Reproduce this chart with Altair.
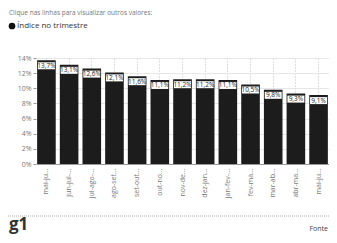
import altair as alt
import pandas as pd

categories = ["mai-jun-jul 2021", "jun-jul-ago 2021", "jul-ago-set 2021", "ago-set-out 2021",
              "set-out-nov 2021", "out-nov-dez 2021", "nov-dez-jan 2022", "dez-jan-fev 2022",
              "jan-fev-mar 2022", "fev-mar-abr 2022", "mar-abr-mai 2022", "abr-mai-jun 2022",
              "mai-jun-jul 2022"]
values = [13.7, 13.1, 12.6, 12.1, 11.6, 11.1, 11.2, 11.2, 11.1, 10.5, 9.8, 9.3, 9.1]
y_ticks = [0, 2, 4, 6, 8, 10, 12, 14]

TITLE = "Índice no trimestre"
SUBTITLE = "Clique nas linhas para visualizar outros valores:"
LEGEND = "Índice no trimestre"
BRAND = "g1"
SOURCE = "Fonte"

FONT = "Open Sans"
df = pd.DataFrame({"periodo": categories, "valor": values})

x_enc = alt.X("periodo:N", sort=categories, title=None,
              scale=alt.Scale(paddingInner=0.18, paddingOuter=0.05),
              axis=alt.Axis(labelAngle=-90, labelLimit=30, labelFontSize=7, labelColor="#777",
                            labelFont=FONT, ticks=False, labelPadding=4,
                            domain=True, domainColor="#999",
                            grid=True, gridDash=[1, 2], gridColor="#bbb"))
y_enc = alt.Y("valor:Q", title=None,
              scale=alt.Scale(domain=[0, 14], nice=False),
              axis=alt.Axis(values=y_ticks, labelExpr="datum.value + '%'",
                            labelFontSize=7, labelOverlap=False,
                            labelColor="#777", labelFont=FONT, tickSize=3, tickColor="#999",
                            domain=False, gridColor="#e6e6e6", labelPadding=2))

base = alt.Chart(df).transform_calculate(
    txt="replace(format(datum.valor, '.1f'), '.', ',') + '%'"
)
bars = base.mark_bar(color="#1c1c1c").encode(x=x_enc, y=y_enc)
boxes = base.mark_tick(color="white", thickness=7, size=17, opacity=1, yOffset=5.5).encode(
    x=x_enc, y=y_enc)
texts = base.mark_text(fontSize=6.5, font=FONT, color="#222", baseline="middle", dy=5.5).encode(
    x=x_enc, y=y_enc, text="txt:N")

def label(txt, x, y, size, color, weight="normal", align="left", baseline="alphabetic"):
    return alt.Chart(pd.DataFrame({"t": [txt]})).mark_text(
        fontSize=size, font=FONT, color=color, fontWeight=weight, align=align,
        baseline=baseline).encode(x=alt.value(x), y=alt.value(y), text="t:N")

title = label(TITLE, -26, -53, 11, "#222", weight="bold")
subtitle = label(SUBTITLE, -27, -45, 6.5, "#777", baseline="middle")
legend_dot = alt.Chart(pd.DataFrame({"t": [LEGEND]})).mark_point(
    filled=True, color="#111", size=45, opacity=1).encode(x=alt.value(-24), y=alt.value(-32))
legend_txt = label(LEGEND, -19, -32, 8, "#333", baseline="middle")
rule = alt.Chart(pd.DataFrame({"t": [1]})).mark_rule(
    color="#aaa", strokeDash=[1, 1], strokeWidth=1).encode(
    x=alt.value(-28), x2=alt.value(293), y=alt.value(158))
brand = label(BRAND, -27, 172, 17, "#333", weight="bold")
source = label(SOURCE, 292, 173, 7, "#444", align="right")

chart = alt.layer(bars, boxes, texts, title, subtitle, legend_dot, legend_txt, rule, brand, source).properties(
    width=293, height=106,
    autosize=alt.AutoSizeParams(type="none"),
    padding={"left": 28, "top": 50, "right": 0, "bottom": 71}
).configure_view(stroke=None)

chart.save("out.html", embed_options={"renderer": "svg", "actions": False})
